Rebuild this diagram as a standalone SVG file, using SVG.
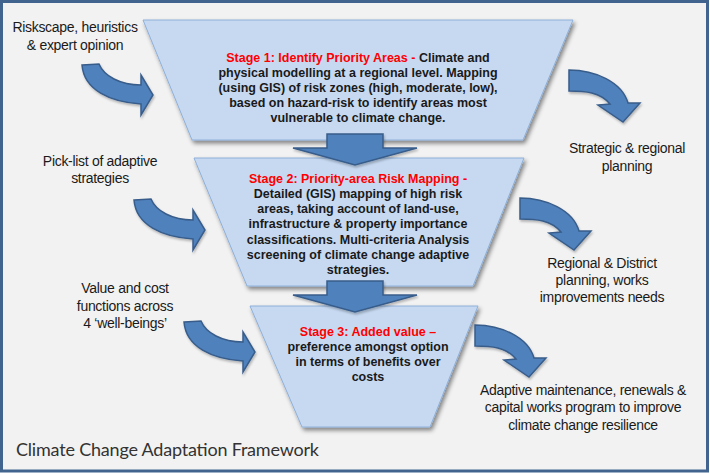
<svg xmlns="http://www.w3.org/2000/svg" xmlns:xlink="http://www.w3.org/1999/xlink" width="710" height="473" viewBox="0 0 710 473">
<defs>
<filter id="shadow" x="-10%" y="-10%" width="125%" height="130%">
<feDropShadow dx="2" dy="3" stdDeviation="2" flood-color="#000" flood-opacity="0.45"/>
</filter>
<filter id="ashadow" x="-10%" y="-10%" width="130%" height="130%">
<feDropShadow dx="1" dy="2" stdDeviation="1.2" flood-color="#000" flood-opacity="0.25"/>
</filter>
<path id="larrow" d="M82 65 L99 64 C104 76 120 85 141 85 L141 75 L153 95 L141 115 L141 104 C110 102 84 90 82 65 Z"/>
<path id="rarrow" d="M569 70 C595 70 622 82 628 103 L640 103 L623 122 L598 105 L610 104 C600 92 585 91 569 91 Z"/>
<path id="darrow" d="M327 134 L383 134 L383 148 L417 148 L355 165 L293 148 L327 148 Z"/>
</defs>
<style>
.stage{fill:#c6d9f1;stroke:#8eb0da;stroke-width:1;filter:url(#shadow);}
.arrow{fill:#4f81bd;stroke:#385d8a;stroke-width:1.5;filter:url(#ashadow);}
.st{font-family:"Liberation Sans",Arial,sans-serif;font-weight:bold;font-size:12.5px;fill:#1a1a1a;text-anchor:middle;}
.red{fill:#ff0000;}
.lbl{font-family:"Liberation Sans",Arial,sans-serif;font-size:14px;letter-spacing:-0.3px;fill:#1a1a1a;text-anchor:middle;}
.title{font-family:Lato,"Open Sans",sans-serif;font-size:18px;fill:#333333;}
</style>
<rect x="1.5" y="1.5" width="706" height="469.5" fill="#f2f2f2" stroke="#41648f" stroke-width="3"/>

<g id="stage1">
<polygon class="stage" points="143,20 573,20 523,140 192,140"/>
<text class="st" y="62" x="358"><tspan class="red">Stage 1: Identify Priority Areas - </tspan>Climate and</text>
<text class="st" y="77" x="358">physical modelling at a regional level. Mapping</text>
<text class="st" y="92" x="358">(using GIS) of risk zones (high, moderate, low),</text>
<text class="st" y="107" x="358">based on hazard-risk to identify areas most</text>
<text class="st" y="122" x="358">vulnerable to climate change.</text>
</g>

<g id="stage2">
<polygon class="stage" points="194,158 524,158 473,286 247,286"/>
<text class="st red" y="183" x="358">Stage 2: Priority-area Risk Mapping -</text>
<text class="st" y="198" x="358">Detailed (GIS) mapping of high risk</text>
<text class="st" y="213" x="358">areas, taking account of land-use,</text>
<text class="st" y="228" x="358">infrastructure &amp; property importance</text>
<text class="st" y="244" x="358">classifications. Multi-criteria Analysis</text>
<text class="st" y="259" x="358">screening of climate change adaptive</text>
<text class="st" y="274" x="358">strategies.</text>
</g>

<g id="stage3">
<polygon class="stage" points="250,306 478,306 430,427 302,427"/>
<text class="st red" y="336" x="368">Stage 3: Added value –</text>
<text class="st" y="351" x="368">preference amongst option</text>
<text class="st" y="366" x="368">in terms of benefits over</text>
<text class="st" y="381" x="368">costs</text>
</g>

<g id="connectors">
<use xlink:href="#darrow" class="arrow"/>
<use xlink:href="#darrow" class="arrow" transform="translate(0,147)"/>
<use xlink:href="#larrow" class="arrow"/>
<use xlink:href="#larrow" class="arrow" transform="translate(52,135)"/>
<use xlink:href="#larrow" class="arrow" transform="translate(102,257)"/>
<use xlink:href="#rarrow" class="arrow"/>
<use xlink:href="#rarrow" class="arrow" transform="translate(-49,128)"/>
<use xlink:href="#rarrow" class="arrow" transform="translate(-94,255)"/>
</g>

<g id="input1">
<text class="lbl" x="75" y="32">Riskscape, heuristics</text>
<text class="lbl" x="75" y="50">&amp; expert opinion</text>
</g>
<g id="input2">
<text class="lbl" x="100" y="166">Pick-list of adaptive</text>
<text class="lbl" x="100" y="183">strategies</text>
</g>
<g id="input3">
<text class="lbl" x="125" y="293">Value and cost</text>
<text class="lbl" x="125" y="311">functions across</text>
<text class="lbl" x="125" y="328">4 ‘well-beings’</text>
</g>
<g id="output1">
<text class="lbl" x="627" y="153">Strategic &amp; regional</text>
<text class="lbl" x="627" y="171">planning</text>
</g>
<g id="output2">
<text class="lbl" x="602" y="268">Regional &amp; District</text>
<text class="lbl" x="602" y="285">planning, works</text>
<text class="lbl" x="602" y="302">improvements needs</text>
</g>
<g id="output3">
<text class="lbl" x="583" y="395">Adaptive maintenance, renewals &amp;</text>
<text class="lbl" x="583" y="412">capital works program to improve</text>
<text class="lbl" x="583" y="430">climate change resilience</text>
</g>
<g id="title">
<text class="title" x="16" y="456" textLength="303">Climate Change Adaptation Framework</text>
</g>
</svg>
